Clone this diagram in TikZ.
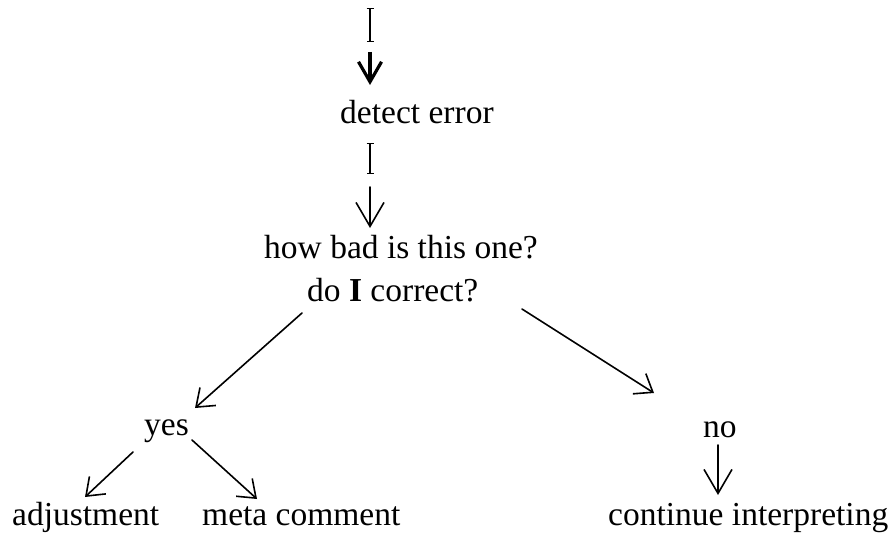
\documentclass[tikz,border=0pt]{standalone}
\usepackage{fontspec}
\setmainfont{Liberation Serif}
\usetikzlibrary{arrows.meta}

\tikzset{
  lbl/.style={anchor=base west, inner sep=0pt, font=\fontsize{33.5}{40}\selectfont},
  line/.style={line width=1.6pt, line cap=round},
  arr/.style={line, -{Straight Barb[length=16pt,width=24pt,line width=1.6pt]}},
  longarr/.style={line, -{Straight Barb[length=24pt,width=28pt,line width=1.6pt]}},
  boldarr/.style={line width=3.4pt, -{Straight Barb[length=20pt,width=23pt,line width=3.2pt]}},
  barseg/.style={line width=1.5pt, {Bar[width=7pt,line width=1.3pt]}-{Bar[width=7pt,line width=1.3pt]}}
}

\begin{document}
\begin{tikzpicture}[x=1pt,y=-1pt]
  \useasboundingbox (0,0) rectangle (893,535);

  % text nodes
  \coordinate (start) at (370,8);
  \node[lbl] (det)  at (340,123) {detect error};
  \node[lbl] (q1)   at (264,258) {how bad is this one?};
  \node[lbl] (q2)   at (307,301) {do \textbf{I} correct?};
  \node[lbl] (yes)  at (144,435) {yes};
  \node[lbl] (no)   at (703,437) {no};
  \node[lbl] (adj)  at (12,525)  {adjustment};
  \node[lbl] (meta) at (202,525) {meta comment};
  \node[lbl] (cont) at (608,525) {continue interpreting};

  % entry into "detect error"
  \draw[barseg] (start) -- ([shift={(30,-81)}]det.base west);
  \draw[boldarr] ([shift={(30,-71)}]det.base west) -- ([shift={(30,-38)}]det.base west);

  % "detect error" to the question
  \draw[barseg] ([shift={(30,20)}]det.base west) -- ([shift={(30,51)}]det.base west);
  \draw[longarr] ([shift={(30,64)}]det.base west) -- ([shift={(106,-30)}]q1.base west);

  % decision branches
  \draw[arr] ([shift={(-5,12)}]q2.base west) -- ([shift={(51,-27)}]yes.base west);
  \draw[arr] ([shift={(215,8)}]q2.base west) -- ([shift={(-49,-44)}]no.base west);

  % outcomes of "yes"
  \draw[arr] ([shift={(-11,17)}]yes.base west) -- ([shift={(73,-28)}]adj.base west);
  \draw[arr] ([shift={(48,5)}]yes.base west) -- ([shift={(55,-26)}]meta.base west);

  % outcome of "no"
  \draw[longarr] ([shift={(15,8)}]no.base west) -- ([shift={(110,-30)}]cont.base west);
\end{tikzpicture}
\end{document}
